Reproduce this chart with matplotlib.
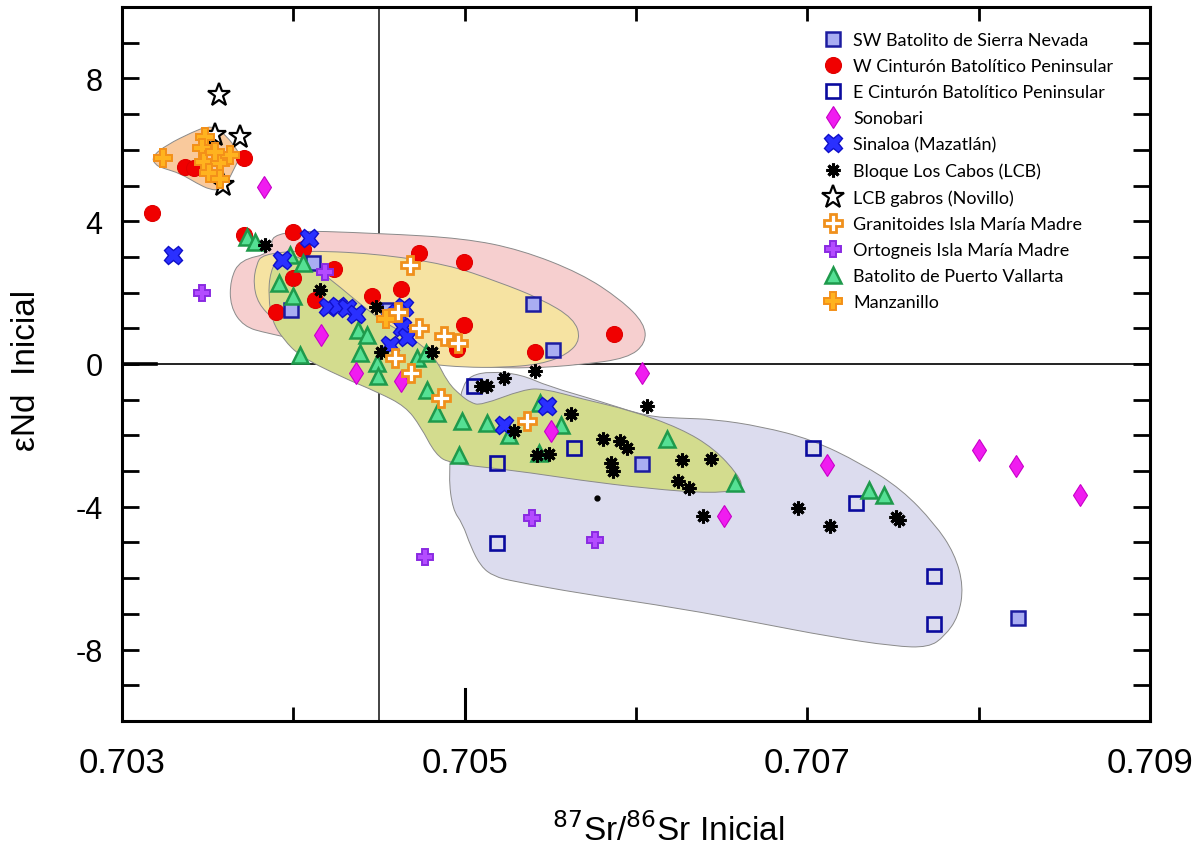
import matplotlib
matplotlib.use("Agg")
import matplotlib.pyplot as plt
from matplotlib.path import Path
from matplotlib.patches import PathPatch
import numpy as np

plt.rcParams["font.family"] = ["Liberation Sans", "DejaVu Sans"]

# ===== data (87Sr/86Sr, eNd) =====
sw_x = [0.704115, 0.703987, 0.705401, 0.705517, 0.704560, 0.706033, 0.708232]
sw_y = [2.84, 1.50, 1.68, 0.40, 1.50, -2.80, -7.12]

wcb_x = [0.703174, 0.703370, 0.703420, 0.703710, 0.703713, 0.703996, 0.704057,
         0.703996, 0.704236, 0.703897, 0.704125, 0.704460, 0.704629, 0.704733,
         0.704996, 0.704996, 0.704957, 0.705409, 0.705870]
wcb_y = [4.22, 5.53, 5.50, 5.76, 3.62, 3.69, 3.22, 2.40, 2.67, 1.47, 1.80,
         1.91, 2.10, 3.12, 2.86, 1.08, 0.42, 0.33, 0.85]

ecb_x = [0.705055, 0.705191, 0.705639, 0.705191, 0.707033, 0.707282, 0.707740, 0.707740]
ecb_y = [-0.63, -2.78, -2.36, -5.02, -2.36, -3.88, -5.95, -7.28]

sono_x = [0.703826, 0.704164, 0.704368, 0.704626, 0.706035, 0.705503, 0.706513,
          0.707117, 0.708002, 0.708218, 0.708592]
sono_y = [4.97, 0.82, -0.24, -0.49, -0.24, -1.89, -4.25, -2.82, -2.40, -2.87, -3.66]

sina_x = [0.703300, 0.704090, 0.703934, 0.704200, 0.704259, 0.704313, 0.704368,
          0.704645, 0.704606, 0.704635, 0.704664, 0.704567, 0.705483, 0.705230]
sina_y = [3.06, 3.52, 2.92, 1.59, 1.63, 1.56, 1.41, 1.59, 1.42, 1.05, 0.77,
          0.54, -1.19, -1.70]

lcb_x = [0.703836, 0.704158, 0.704480, 0.704509, 0.704811, 0.705230, 0.705409,
         0.705094, 0.705133, 0.706064, 0.705623, 0.705289, 0.705805, 0.705908,
         0.705947, 0.705854, 0.705863, 0.705424, 0.705492, 0.706269, 0.706435,
         0.706244, 0.706312, 0.706390, 0.706945, 0.707130, 0.707536, 0.707515]
lcb_y = [3.34, 2.08, 1.61, 0.35, 0.35, -0.40, -0.21, -0.61, -0.61, -1.19, -1.41,
         -1.89, -2.11, -2.17, -2.36, -2.78, -3.01, -2.55, -2.52, -2.68, -2.67,
         -3.29, -3.48, -4.25, -4.02, -4.55, -4.38, -4.30]

dot_x = [0.705772]
dot_y = [-3.74]

gab_x = [0.703569, 0.703690, 0.703544, 0.703592]
gab_y = [7.54, 6.37, 6.42, 5.02]

gran_x = [0.704680, 0.704733, 0.704879, 0.704961, 0.704596, 0.704684, 0.704860,
          0.705366, 0.704610]
gran_y = [2.78, 1.00, 0.79, 0.58, 0.16, -0.26, -0.96, -1.59, 1.45]

orto_x = [0.703466, 0.704187, 0.705396, 0.705760, 0.704768]
orto_y = [1.98, 2.59, -4.32, -4.93, -5.41]

pv_x = [0.703730, 0.703778, 0.703978, 0.703914, 0.703998, 0.704056, 0.704036,
        0.704376, 0.704430, 0.704390, 0.704489, 0.704495, 0.704719, 0.704772,
        0.704782, 0.704840, 0.704986, 0.705133, 0.704966, 0.705259, 0.705440,
        0.705561, 0.705435, 0.706181, 0.706579, 0.707360, 0.707446]
pv_y = [3.57, 3.43, 3.06, 2.28, 1.91, 2.82, 0.26, 0.96, 0.82, 0.32, 0.02, -0.33,
        0.16, 0.32, -0.72, -1.38, -1.61, -1.66, -2.54, -1.98, -1.10, -1.70,
        -2.50, -2.11, -3.32, -3.53, -3.68]

manz_x = [0.703242, 0.703485, 0.703468, 0.703476, 0.703573, 0.703632, 0.703505,
          0.703573, 0.703540, 0.704540]
manz_y = [5.76, 6.37, 6.06, 5.67, 5.62, 5.86, 5.34, 5.18, 5.95, 1.25]

# ===== field outlines =====
orange_fx = [0.703174, 0.703261, 0.703417, 0.703495, 0.703554, 0.703612, 0.703667,
             0.703690, 0.703651, 0.703612, 0.703573, 0.703515, 0.703437, 0.703339,
             0.703242, 0.703193]
orange_fy = [5.81, 6.14, 6.51, 6.65, 6.61, 6.37, 6.04, 5.81, 5.44, 5.06, 4.88,
             4.88, 5.06, 5.34, 5.48, 5.58]

pink_fx = [0.703875, 0.704509, 0.704996, 0.705327, 0.705678, 0.705912, 0.706049,
           0.706058, 0.705951, 0.705678, 0.705386, 0.705094, 0.704626, 0.704216,
           0.703846, 0.703709, 0.703632, 0.703632, 0.703690, 0.703875]
pink_fy = [3.76, 3.66, 3.52, 3.20, 2.54, 1.80, 1.14, 0.58, 0.16, -0.02, -0.12,
           -0.09, 0.15, 0.49, 0.86, 1.05, 1.61, 2.36, 2.92, 3.10]

yellow_fx = [0.703819, 0.704041, 0.704468, 0.704899, 0.705191, 0.705444, 0.705639,
             0.705678, 0.705600, 0.705444, 0.705211, 0.704994, 0.704801, 0.704567,
             0.704333, 0.704041, 0.703883, 0.703795, 0.703766, 0.703784]
yellow_fy = [3.07, 3.18, 3.10, 2.79, 2.31, 1.83, 1.27, 0.69, 0.27, -0.01, -0.10,
             -0.09, -0.01, 0.15, 0.43, 0.83, 1.25, 1.69, 2.25, 2.79]

lav_fx = [0.704988, 0.705035, 0.705152, 0.705327, 0.705491, 0.705795, 0.706064,
          0.706263, 0.706456, 0.706731, 0.707023, 0.707316, 0.707550, 0.707743,
          0.707860, 0.707912, 0.707883, 0.707801, 0.707708, 0.707509, 0.707123,
          0.706731, 0.706263, 0.705678, 0.705287, 0.705170, 0.705094, 0.705035,
          0.704988, 0.704930, 0.704906, 0.704930, 0.704965]
lav_fy = [-0.63, -0.32, -0.21, -0.29, -0.63, -1.05, -1.47, -1.52, -1.55, -1.75,
          -2.11, -2.79, -3.51, -4.47, -5.31, -6.23, -7.07, -7.63, -7.94, -7.91,
          -7.63, -7.27, -6.85, -6.43, -6.09, -5.95, -5.67, -5.11, -4.47, -4.08,
          -3.15, -2.03, -1.19]

green_fx = [0.703924, 0.704041, 0.704234, 0.704392, 0.704532, 0.704684, 0.704825,
            0.704901, 0.704977, 0.705035, 0.705094, 0.705345, 0.705462, 0.705678,
            0.705971, 0.706263, 0.706456, 0.706596, 0.706626, 0.706456, 0.706070,
            0.705678, 0.705287, 0.704918, 0.704830, 0.704743, 0.704655, 0.704497,
            0.704275, 0.704041, 0.703942, 0.703877, 0.703854, 0.703865]
green_fy = [3.10, 3.01, 2.31, 1.67, 1.16, 0.77, 0.21, -0.52, -0.88, -1.08, -1.16,
            -0.71, -0.69, -0.97, -1.30, -1.81, -2.37, -3.10, -3.49, -3.63, -3.49,
            -3.26, -2.98, -2.79, -2.54, -1.75, -1.19, -0.80, -0.35, 0.21, 0.69,
            1.19, 1.89, 2.59]


def smooth_field(ax, xs, ys, color, z):
    # closed outline drawn as quadratic curves through the midpoints
    pts = np.column_stack([xs, ys])
    mids = (pts + np.roll(pts, -1, axis=0)) / 2
    verts = [mids[-1]]
    codes = [Path.MOVETO]
    for i in range(len(pts)):
        verts += [pts[i], mids[i]]
        codes += [Path.CURVE3, Path.CURVE3]
    verts.append(mids[-1])
    codes.append(Path.CLOSEPOLY)
    patch = PathPatch(Path(verts, codes), facecolor=color, edgecolor="#8a8a8a",
                      linewidth=0.7, zorder=z)
    ax.add_patch(patch)


fig = plt.figure(figsize=(11.95, 8.54), dpi=100)
ax = fig.add_axes([0.1021, 0.1546, 0.8602, 0.836])

# ===== fields =====
smooth_field(ax, pink_fx, pink_fy, "#f6cfcf", 1.0)
smooth_field(ax, yellow_fx, yellow_fy, "#f6e3a2", 1.1)
smooth_field(ax, lav_fx, lav_fy, "#dcdcee", 1.2)
smooth_field(ax, green_fx, green_fy, "#d3dc8e", 1.3)
smooth_field(ax, orange_fx, orange_fy, "#f9c99c", 1.4)

# reference lines
ax.axhline(0, color="#222222", lw=1.4, zorder=0.5)
ax.axvline(0.7045, color="#222222", lw=1.2, zorder=0.5)
ax.axhline(0, xmin=0, xmax=0.033, color="black", lw=2.6, zorder=3)
ax.axvline(0.705, ymin=0, ymax=0.045, color="black", lw=2.2, zorder=3)

# ===== points =====
kw = dict(linestyle="none")
h_w, = ax.plot(wcb_x, wcb_y, marker="o", ms=11.5, mfc="#f00000", mec="#e00000",
               mew=0.8, zorder=3, **kw)
h_sw, = ax.plot(sw_x, sw_y, marker="s", ms=9.5, mfc="#a9adf2", mec="#1c1ca0",
                mew=1.8, zorder=4, **kw)
h_e, = ax.plot(ecb_x, ecb_y, marker="s", ms=9.5, mfc="none", mec="#0b0b9e",
               mew=1.9, zorder=4, **kw)
h_pv, = ax.plot(pv_x, pv_y, marker="^", ms=12, mfc="#55e094", mec="#1e9a4c",
                mew=1.8, zorder=5, **kw)
h_so, = ax.plot(sono_x, sono_y, marker="d", ms=11.5, mfc="#f01cf0", mec="#c800c8",
                mew=0.8, zorder=6, **kw)
h_si, = ax.plot(sina_x, sina_y, marker="X", ms=13, mfc="#2a30ff", mec="#1010c8",
                mew=1.0, zorder=7, **kw)
h_lcb, = ax.plot(lcb_x, lcb_y, marker=(8, 2, 0), ms=10, color="black", mew=2.2,
                 zorder=8, **kw)
ax.plot(dot_x, dot_y, marker="o", ms=3.5, color="black", zorder=8, **kw)
h_gab, = ax.plot(gab_x, gab_y, marker="*", ms=17, mfc="white", mec="black",
                 mew=1.6, zorder=9, **kw)
h_gr, = ax.plot(gran_x, gran_y, marker="P", ms=12.5, mfc="white", mec="#f0901c",
                mew=2.0, zorder=9, **kw)
h_or, = ax.plot(orto_x, orto_y, marker="P", ms=11.5, mfc="#b44cff", mec="#8a2be2",
                mew=1.4, zorder=9, **kw)
h_mz, = ax.plot(manz_x, manz_y, marker="P", ms=12.5, mfc="#ffb31f", mec="#f39019",
                mew=1.4, zorder=10, **kw)

handles = [h_sw, h_w, h_e, h_so, h_si, h_lcb, h_gab, h_gr, h_or, h_pv, h_mz]
labels = ["SW Batolito de Sierra Nevada", "W Cinturón Batolítico Peninsular",
          "E Cinturón Batolítico Peninsular", "Sonobari", "Sinaloa (Mazatlán)",
          "Bloque Los Cabos (LCB)", "LCB gabros (Novillo)",
          "Granitoides Isla María Madre", "Ortogneis Isla María Madre",
          "Batolito de Puerto Vallarta", "Manzanillo"]
ax.legend(handles, labels, loc="upper left", bbox_to_anchor=(0.683, 0.965),
          frameon=False, handlelength=1.0, handletextpad=0.6,
          labelspacing=0.56, borderpad=0, borderaxespad=0,
          prop={"family": ["Lato", "DejaVu Sans"], "size": 13})

# ===== axes =====
ax.set_xlim(0.703, 0.709)
ax.set_ylim(-10, 10)
ax.set_xticks([0.703, 0.704, 0.705, 0.706, 0.707, 0.708, 0.709])
ax.set_xticklabels(["0.703", "", "0.705", "", "0.707", "", "0.709"])
ax.set_yticks(np.arange(-9, 10, 1))
ax.set_yticklabels(["" if v % 4 else str(v) for v in range(-9, 10)])
ax.tick_params(axis="x", direction="in", length=10, width=2, top=True,
               labelsize=25, pad=18)
ax.tick_params(axis="y", direction="in", length=12, width=2, right=True,
               labelsize=22, pad=14)
for sp in ax.spines.values():
    sp.set_linewidth(2.2)

ax.set_xlabel(r"$^{87}$Sr/$^{86}$Sr Inicial", fontsize=24)
ax.xaxis.set_label_coords(0.531, -0.128)
ax.set_ylabel("εNd  Inicial", fontsize=24)
ax.yaxis.set_label_coords(-0.078, 0.493)

fig.savefig("out.png", dpi=100)
